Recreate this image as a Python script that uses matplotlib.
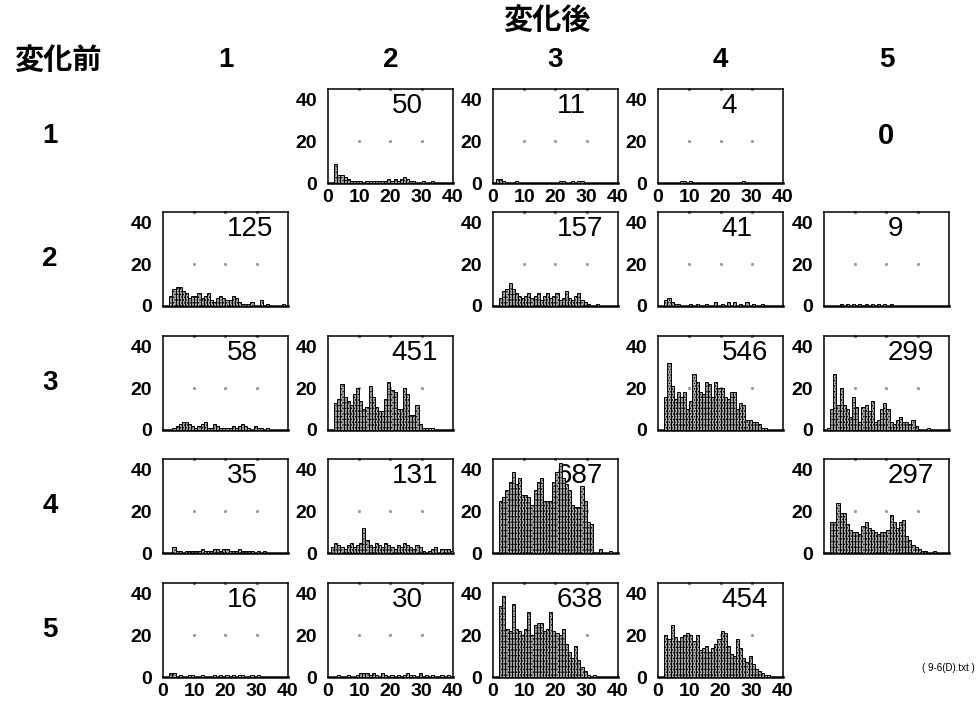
import matplotlib
matplotlib.use("Agg")
import matplotlib.pyplot as plt

plt.rcParams['hatch.color'] = '0.2'
plt.rcParams['hatch.linewidth'] = 0.7

DIGIT_FONT = ['Liberation Sans', 'DejaVu Sans']
JP_FONT = ['Noto Sans CJK JP', 'DejaVu Sans']

# state labels (before -> rows, after -> columns)
states = ['1', '2', '3', '4', '5']

# number of transitions for each (before, after) pair; None on the diagonal
n_row1 = [None, 50, 11, 4, 0]
n_row2 = [125, None, 157, 41, 9]
n_row3 = [58, 451, None, 546, 299]
n_row4 = [35, 131, 687, None, 297]
n_row5 = [16, 30, 638, 454, None]

# histogram counts per unit bin, bin k covers [k, k+1)
h12 = [0, 0, 9, 4, 4, 3, 2, 1, 1, 1, 1, 0, 1, 1, 1, 1, 1, 1, 1, 2, 1, 2, 1, 2, 3, 2, 1, 1, 0, 0, 1, 0, 0, 1]
h13 = [0, 2, 2, 1, 0, 0, 0, 1, 0, 0, 0, 0, 0, 0, 0, 0, 0, 0, 0, 0, 0, 1, 1, 0, 0, 1, 0, 1, 1]
h14 = [0, 0, 0, 0, 0, 0, 0, 1, 1, 0, 1, 0, 0, 0, 0, 0, 0, 0, 0, 0, 0, 0, 0, 0, 0, 0, 0, 1]
h21 = [0, 0, 5, 8, 9, 9, 7, 6, 4, 5, 5, 6, 4, 5, 6, 3, 2, 4, 5, 4, 3, 3, 5, 4, 2, 1, 1, 1, 2, 0, 0, 3, 0, 1, 0, 0, 0, 0, 1]
h23 = [0, 0, 4, 7, 8, 11, 8, 6, 5, 4, 5, 6, 4, 5, 6, 3, 5, 6, 4, 5, 6, 3, 4, 7, 4, 3, 5, 6, 3, 2, 1, 0, 0, 1]
h24 = [0, 0, 3, 4, 2, 1, 1, 0, 0, 0, 1, 0, 1, 0, 0, 1, 0, 0, 2, 0, 1, 0, 2, 0, 2, 0, 1, 0, 2, 0, 1, 0, 0, 1]
h25 = [0, 0, 0, 0, 0, 1, 0, 1, 0, 1, 0, 1, 0, 1, 0, 1, 0, 1, 0, 1, 0, 1]
h31 = [0, 0, 0, 1, 2, 3, 4, 4, 3, 2, 1, 2, 3, 4, 1, 1, 3, 2, 1, 1, 1, 1, 2, 1, 2, 3, 2, 1, 0, 2, 1, 1, 0, 1]
h32 = [0, 0, 13, 15, 22, 16, 14, 12, 17, 20, 14, 10, 11, 21, 16, 11, 9, 9, 15, 23, 19, 18, 10, 10, 20, 17, 7, 7, 12, 3, 1, 1, 1, 1]
h34 = [0, 0, 16, 32, 21, 15, 18, 16, 18, 10, 14, 27, 23, 18, 17, 23, 22, 16, 23, 20, 20, 16, 15, 18, 18, 10, 13, 12, 5, 5, 4, 4, 3, 1, 1]
h35 = [0, 1, 10, 27, 12, 20, 12, 10, 6, 16, 11, 4, 11, 12, 9, 14, 4, 5, 10, 13, 10, 4, 3, 5, 6, 4, 4, 3, 5, 2, 0, 0, 0, 1]
h41 = [0, 0, 0, 3, 1, 1, 0, 1, 1, 1, 1, 1, 2, 1, 1, 1, 2, 2, 1, 2, 2, 1, 1, 1, 2, 1, 1, 1, 1, 0, 1, 0, 1]
h42 = [0, 3, 5, 4, 3, 2, 4, 5, 3, 4, 5, 12, 6, 4, 3, 5, 4, 3, 5, 4, 3, 2, 4, 3, 5, 4, 3, 2, 4, 3, 1, 0, 1, 2, 3, 0, 2, 2, 2, 1]
h43 = [0, 0, 25, 27, 30, 34, 39, 33, 36, 28, 28, 27, 23, 30, 34, 36, 25, 25, 25, 34, 39, 43, 36, 33, 30, 23, 22, 22, 32, 25, 15, 14, 0, 0, 2, 0, 0, 1]
h45 = [0, 0, 15, 15, 24, 19, 19, 14, 11, 10, 10, 9, 13, 15, 12, 11, 10, 9, 10, 10, 11, 18, 15, 12, 15, 16, 8, 6, 4, 3, 2, 1, 1, 0, 0, 1]
h51 = [0, 0, 2, 2, 0, 1, 0, 0, 1, 1, 0, 0, 1, 0, 0, 0, 1, 0, 1, 0, 1, 0, 1, 0, 1, 1, 0, 0, 1, 0, 1]
h52 = [0, 0, 0, 1, 0, 0, 1, 0, 0, 1, 2, 2, 2, 1, 2, 1, 0, 2, 1, 0, 1, 0, 1, 0, 1, 2, 1, 1, 0, 2, 0, 1, 0, 1, 0, 0, 1, 0, 1]
h53 = [0, 0, 34, 39, 23, 22, 35, 23, 22, 20, 23, 31, 20, 25, 26, 26, 22, 23, 31, 22, 21, 20, 23, 16, 12, 9, 15, 8, 5, 3, 1, 0, 1]
h54 = [0, 0, 20, 18, 25, 19, 17, 19, 20, 21, 20, 17, 20, 13, 14, 15, 12, 14, 16, 18, 22, 21, 15, 11, 10, 18, 14, 9, 7, 10, 6, 4, 3, 2, 1, 1]

x_ticks = [0, 10, 20, 30, 40]
y_ticks = [0, 20, 40]

counts = [n_row1, n_row2, n_row3, n_row4, n_row5]
hists = {
    (0, 1): h12, (0, 2): h13, (0, 3): h14,
    (1, 0): h21, (1, 2): h23, (1, 3): h24, (1, 4): h25,
    (2, 0): h31, (2, 1): h32, (2, 3): h34, (2, 4): h35,
    (3, 0): h41, (3, 1): h42, (3, 2): h43, (3, 4): h45,
    (4, 0): h51, (4, 1): h52, (4, 2): h53, (4, 3): h54,
}

W, H = 979, 710
fig = plt.figure(figsize=(W / 100, H / 100), dpi=100)
fig.patch.set_facecolor('white')

col_left = [163, 328, 493, 658, 824]
row_top = [89, 212, 336, 459, 583]
pw, ph = 125, 94


def fx(px):
    return px / W


def fy(py):
    return 1 - py / H


# headers
fig.text(fx(547), fy(20), '変化後', family=JP_FONT, fontsize=21, fontweight='bold',
         ha='center', va='center')
fig.text(fx(58), fy(60), '変化前', family=JP_FONT, fontsize=21, fontweight='bold',
         ha='center', va='center')
for j, s in enumerate(states):
    fig.text(fx(col_left[j] + pw / 2), fy(60), s, family=DIGIT_FONT, fontsize=20,
             fontweight='bold', ha='center', va='center')
for i, s in enumerate(states):
    fig.text(fx(50), fy(row_top[i] + ph / 2), s, family=DIGIT_FONT, fontsize=20,
             fontweight='bold', ha='center', va='center')

for i in range(5):
    for j in range(5):
        n = counts[i][j]
        if n is None:
            continue
        if (i, j) not in hists:
            fig.text(fx(col_left[j] + pw / 2), fy(row_top[i] + ph / 2), str(n),
                     family=DIGIT_FONT, fontsize=21, fontweight='bold',
                     ha='center', va='center')
            continue
        ax = fig.add_axes([fx(col_left[j]), fy(row_top[i] + ph), pw / W, ph / H])
        h = hists[(i, j)]
        ax.bar(range(len(h)), h, width=1, align='edge', facecolor='0.68',
               edgecolor='black', linewidth=0.7, hatch='......', zorder=3)
        ax.set_xlim(0, 40)
        ax.set_ylim(0, 45)
        ax.set_xticks(x_ticks)
        ax.set_yticks(y_ticks)
        ax.tick_params(axis='both', length=0, labelsize=14, colors='black')
        ax.tick_params(axis='y', pad=8)
        ax.tick_params(axis='x', pad=4)
        for lab in ax.get_xticklabels() + ax.get_yticklabels():
            lab.set_family(DIGIT_FONT)
            lab.set_fontweight('bold')
        if i not in (0, 4):
            ax.set_xticklabels([])
        # sparse grid dots at the tick crossings
        for gx in x_ticks[1:-1]:
            for gy in y_ticks[1:2]:
                ax.plot(gx, gy, marker='s', ms=1.1, color='0.6', zorder=1)
            ax.plot(gx, 45, marker='s', ms=1.3, color='0.5', zorder=1, clip_on=False)
        for sp in ax.spines.values():
            sp.set_linewidth(1.1)
        ax.spines['bottom'].set_linewidth(1.8)
        ax.text(0.51, 0.82, str(n), transform=ax.transAxes, ha='left', va='center',
                family=DIGIT_FONT, fontsize=20, zorder=2)

fig.text(fx(975), fy(668), '( 9-6(D).txt )', family=DIGIT_FONT, fontsize=7,
         ha='right', va='center')

fig.savefig('out.png', dpi=100, facecolor='white')
